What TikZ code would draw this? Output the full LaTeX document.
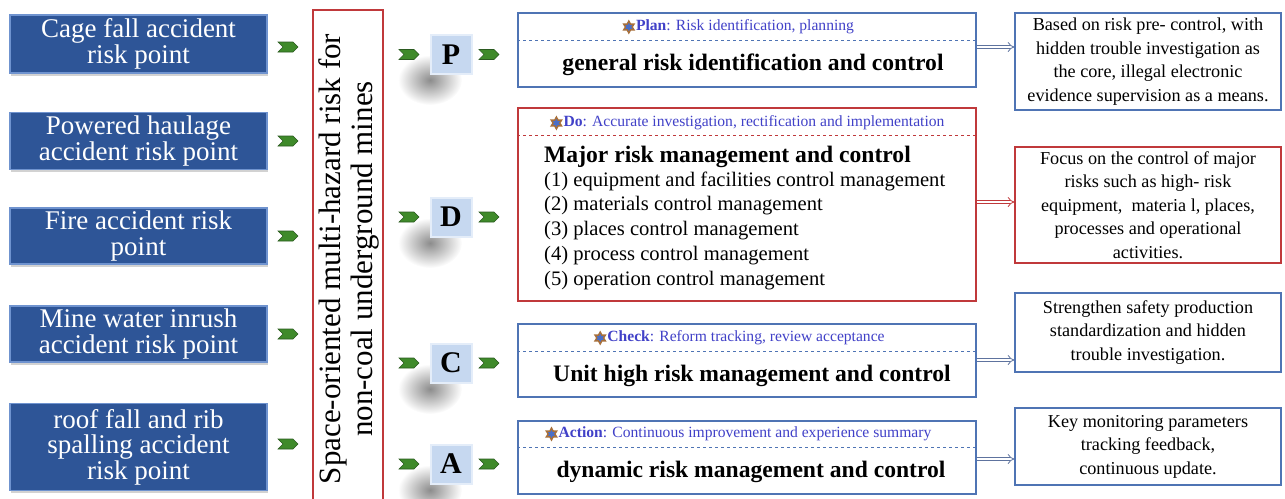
\documentclass[tikz,border=0pt]{standalone}
\usepackage{fontspec}
\setmainfont{LiberationSerif}[Extension=.ttf, UprightFont=*-Regular, BoldFont=*-Bold, ItalicFont=*-Italic, BoldItalicFont=*-BoldItalic]
\usetikzlibrary{shapes.geometric,arrows.meta,calc,shadows}
\definecolor{boxblue}{HTML}{2E5597}
\definecolor{boxedge}{HTML}{6F93CF}
\definecolor{frameblue}{HTML}{4F74B4}
\definecolor{framered}{HTML}{C0393B}
\definecolor{headblue}{HTML}{4141C8}
\definecolor{sqfill}{HTML}{C6D8F0}
\definecolor{sqedge}{HTML}{E4EDF9}
\definecolor{chevgreen}{HTML}{3F8A2A}
\definecolor{chevdark}{HTML}{2B5A20}
\definecolor{starblue}{HTML}{4A6FC8}
\definecolor{starbrown}{HTML}{A8703A}
\definecolor{arrblue}{HTML}{5E739E}
\begin{document}
\begin{tikzpicture}[x=1pt,y=-1pt,
  riskbox/.style={rectangle, fill=boxblue, draw=boxedge, line width=1.5pt, minimum width=257pt, text=white, align=center, inner sep=1pt,
     font=\fontsize{27}{25.5}\selectfont, drop shadow={shadow xshift=1pt, shadow yshift=-2.5pt, fill=black!35}},
  pdcabox/.style={rectangle, draw=frameblue, line width=1.3pt, minimum width=458pt, fill=white},
  pdcared/.style={pdcabox, draw=framered},
  notebox/.style={rectangle, draw=frameblue, line width=1.3pt, minimum width=266pt, fill=white},
  notered/.style={notebox, draw=framered},
  notetext/.style={align=center, font=\fontsize{18.2}{23.5}\selectfont},
  sq/.style={rectangle, fill=sqfill, draw=sqedge, line width=2pt, minimum width=41pt, minimum height=39pt, inner sep=0pt, font=\fontsize{30}{30}\selectfont\bfseries},
  headtext/.style={text=headblue, font=\fontsize{15.6}{16}\selectfont, inner sep=0pt},
  maintext/.style={font=\fontsize{23.6}{26}\selectfont\bfseries, inner sep=0pt},
  itemtext/.style={font=\fontsize{20.6}{24}\selectfont, inner sep=0pt, anchor=west},
  starmark/.style={star, star points=6, star point ratio=1.8, minimum size=12pt, inner sep=0pt, fill=starblue, draw=starbrown, line width=1.4pt},
  dashblue/.style={draw=frameblue, dashed, line width=0.6pt},
  dashred/.style={draw=framered, dashed, line width=0.6pt},
  dblarrow/.style={draw=arrblue, double=white, double distance=2.6pt, line width=0.8pt, -{Implies}},
  dblred/.style={dblarrow, draw=framered},
  chev/.pic={\fill[chevgreen, draw=chevdark, line width=0.6pt] (-10,-5)--(5,-5)--(10,0)--(5,5)--(-10,5)--(-5,0)--cycle;}
]
\useasboundingbox (0,0) rectangle (1285,498);

% left risk boxes
\node[riskbox, minimum height=58pt] (r1) at (138.5,44) {Cage fall accident\\risk point};
\node[riskbox, minimum height=57pt] (r2) at (138.5,141) {Powered haulage\\accident risk point};
\node[riskbox, minimum height=56pt] (r3) at (138.5,236) {Fire accident risk\\point};
\node[riskbox, minimum height=56pt] (r4) at (138.5,334) {Mine water inrush\\accident risk point};
\node[riskbox, minimum height=87pt] (r5) at (138.5,447) {roof fall and rib\\spalling accident\\risk point};

\foreach \yy in {47,141,236,334,444} \pic at (288,\yy) {chev};

% red vertical box
\draw[framered, line width=1.5pt] (313,500) -- (313,10) -- (383,10) -- (383,500);
\node[rotate=90, align=center, font=\fontsize{31}{32}\selectfont, inner sep=0pt] (title) at (349,259)
  {Space-oriented multi-hazard risk for\\non-coal underground mines};

% PDCA squares with shadows
\foreach \yy in {80,243,389,490} \shade[inner color=black!45, outer color=white] (430,\yy) ellipse (32 and 25);
\node[sq] (P) at (451,54.5) {P};
\node[sq] (D) at (451,217) {D};
\node[sq] (C) at (451,363) {C};
\node[sq] (A) at (451,464) {A};
\foreach \yy in {54.5,217,363,464} {\pic at (409,\yy) {chev}; \pic at (489,\yy) {chev};}

% PDCA content boxes
\node[pdcabox, minimum height=74pt] (pb) at (747,50) {};
\node[pdcared, minimum height=193pt] (db) at (747,204.5) {};
\node[pdcabox, minimum height=73pt] (cb) at (747,360.5) {};
\node[pdcabox, minimum height=73pt] (ab) at (747,457.5) {};

\draw[dashblue] (pb.west |- 0,40) -- (pb.east |- 0,40);
\draw[dashred] (db.west |- 0,135) -- (db.east |- 0,135);
\draw[dashblue] (cb.west |- 0,351) -- (cb.east |- 0,351);
\draw[dashblue] (ab.west |- 0,447) -- (ab.east |- 0,447);

\node[headtext] (ph) at (745,27) {\textbf{Plan}: Risk identification, planning};
\node[starmark] at ($(ph.west)+(-7,0)$) {};
\node[maintext] (pm) at (753,65) {general risk identification and control};

\node[headtext] (dh) at (754,123) {\textbf{Do}: Accurate investigation, rectification and implementation};
\node[starmark] at ($(dh.west)+(-7,0)$) {};
\node[maintext, anchor=west] (dm) at (544,157) {Major risk management and control};
\node[itemtext] (d1) at (544,181) {(1) equipment and facilities control management};
\node[itemtext] (d2) at (544,206) {(2) materials control management};
\node[itemtext] (d3) at (544,231) {(3) places control management};
\node[itemtext] (d4) at (544,256) {(4) process control management};
\node[itemtext] (d5) at (544,281) {(5) operation control management};

\node[headtext] (ch) at (746,338) {\textbf{Check}: Reform tracking, review acceptance};
\node[starmark] at ($(ch.west)+(-7,0)$) {};
\node[maintext] (cm) at (752,376) {Unit high risk management and control};

\node[headtext] (ah) at (745,434) {\textbf{Action}: Continuous improvement and experience summary};
\node[starmark] at ($(ah.west)+(-7,0)$) {};
\node[maintext] (am) at (751,472) {dynamic risk management and control};

% right note boxes
\node[notebox, minimum height=97pt] (n1) at (1148,61.5) {};
\node[notetext] at (n1) {Based on risk pre- control, with\\hidden trouble investigation as\\the core, illegal electronic\\evidence supervision as a means.};
\node[notered, minimum height=116pt] (n2) at (1148,205) {};
\node[notetext] at (n2) {Focus on the control of major\\risks such as high- risk\\equipment,\ \ materia l, places,\\processes and operational\\activities.};
\node[notebox, minimum height=79pt] (n3) at (1148,332.5) {};
\node[notetext] at (n3) {Strengthen safety production\\standardization and hidden\\trouble investigation.};
\node[notebox, minimum height=77pt] (n4) at (1148,446.5) {};
\node[notetext] at (n4) {Key monitoring parameters\\tracking feedback,\\continuous update.};

% double arrows
\coordinate (ya) at (0,47);
\coordinate (yb) at (0,202);
\coordinate (yc) at (0,360);
\coordinate (yd) at (0,459);
\draw[dblarrow] (pb.east |- ya) -- (n1.west |- ya);
\draw[dblred] (db.east |- yb) -- (n2.west |- yb);
\draw[dblarrow] (cb.east |- yc) -- (n3.west |- yc);
\draw[dblarrow] (ab.east |- yd) -- (n4.west |- yd);
\end{tikzpicture}
\end{document}
